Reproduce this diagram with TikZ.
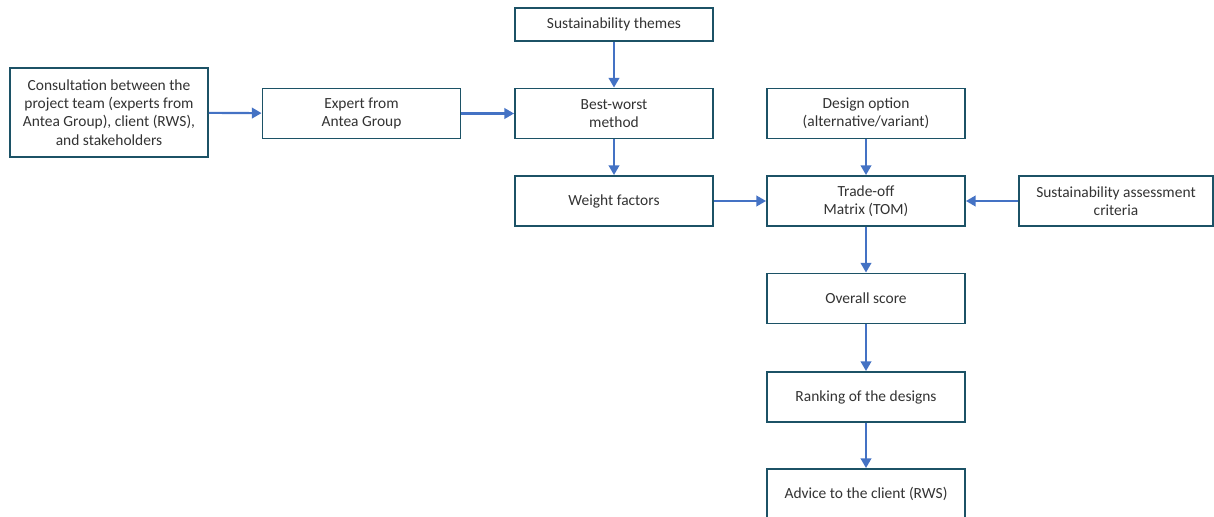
\documentclass[tikz,border=0pt]{standalone}
\usepackage{fontspec}
\setmainfont{Carlito}
\usepackage{tikz}
\usetikzlibrary{arrows.meta,positioning}
\definecolor{teal}{RGB}{28,82,102}
\definecolor{flow}{RGB}{68,114,196}

\begin{document}
\begin{tikzpicture}[x=0.02cm,y=-0.02cm,
				box/.style={draw=teal,fill=white,line width=1.1pt,
					minimum width=3.96cm,minimum height=1.0cm,inner sep=2pt,
					align=center,font=\fontsize{8.8}{10.4}\selectfont,text=black!80},
				arr/.style={-{Triangle[length=5.5pt,width=6pt]},flow,line width=1.2pt}]
				
				\useasboundingbox (0,0) rectangle (1214,517);
				
				\node[box,minimum height=1.78cm] (cons) at (109,112.5) {Consultation between the\\project team (experts from\\Antea Group), client (RWS),\\and stakeholders};
				\node[box] (expert)  at (361.5,113.5) {Expert from\\Antea Group};
				\node[box,minimum height=0.66cm] (themes) at (614,24.5) {Sustainability themes};
				\node[box] (bwm)     at (614,113.5) {Best-worst\\method};
				\node[box] (weights) at (614,201)   {Weight factors};
				\node[box] (design)  at (866,113.5) {Design option\\(alternative/variant)};
				\node[box] (tom)     at (866,201)   {Trade-off\\Matrix (TOM)};
				\node[box,minimum width=3.88cm] (crit) at (1116,201) {Sustainability assessment\\criteria};
				\node[box] (score)   at (866,298.5) {Overall score};
				\node[box] (rank)    at (866,397)   {Ranking of the designs};
				\node[box] (advice)  at (866,494)   {Advice to the client (RWS)};
				
				\draw[arr] (cons)--(expert);
				\draw[arr] (expert)--(bwm);
				\draw[arr] (themes)--(bwm);
				\draw[arr] (bwm)--(weights);
				\draw[arr] (weights)--(tom);
				\draw[arr] (design)--(tom);
				\draw[arr] (crit)--(tom);
				\draw[arr] (tom)--(score);
				\draw[arr] (score)--(rank);
				\draw[arr] (rank)--(advice);
			\end{tikzpicture}
\end{document}
